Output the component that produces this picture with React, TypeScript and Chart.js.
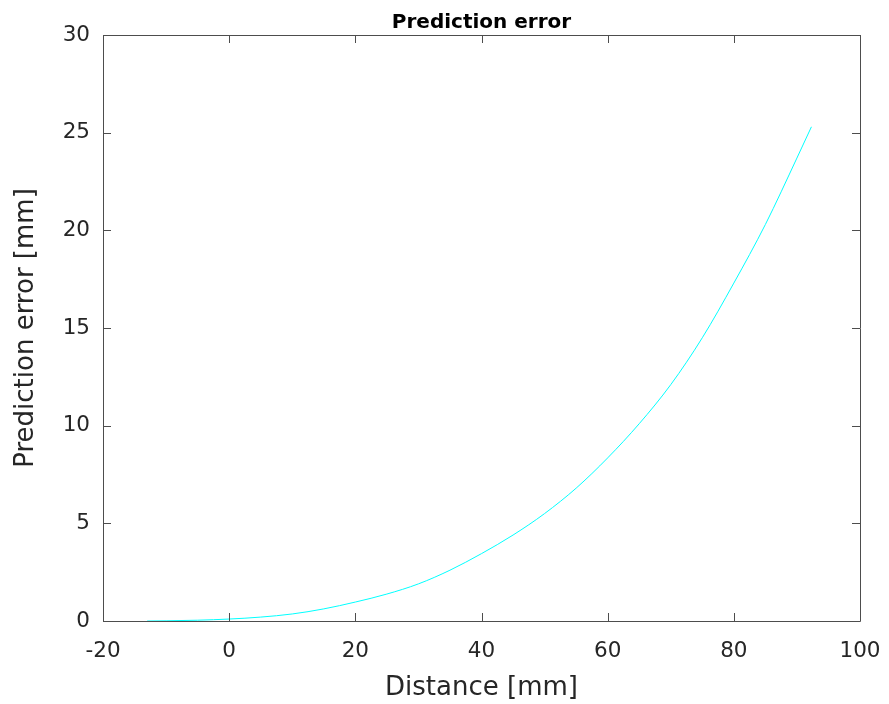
import React, { useEffect, useRef } from "react";
import { Chart, registerables } from "chart.js";

Chart.register(...registerables);

const distanceMm = [-13, -10, -5, 0, 5, 10, 15, 20, 25, 30, 35, 40, 45, 50, 55, 60, 65, 70, 75, 80, 85, 90, 92.3];
const errorMm = [0, 0.01, 0.04, 0.1, 0.2, 0.36, 0.62, 0.97, 1.38, 1.9, 2.6, 3.45, 4.4, 5.5, 6.8, 8.35, 10.1, 12.1, 14.5, 17.3, 20.3, 23.7, 25.3];

const xTicks = [-20, 0, 20, 40, 60, 80, 100];
const yTicks = [0, 5, 10, 15, 20, 25, 30];

const titleText = "Prediction error";
const xLabel = "Distance [mm]";
const yLabel = "Prediction error [mm]";

const FONT = "'DejaVu Sans', sans-serif";
const TEXT = "#262626";
const AXIS = "#4d4d4d";

const framePlugin = {
  id: "frameTicks",
  afterDatasetsDraw(chart: any) {
    const { ctx, chartArea } = chart;
    const { left, right, top, bottom } = chartArea;
    const xs = chart.scales.x;
    const ys = chart.scales.y;
    const len = 8;
    ctx.save();
    ctx.strokeStyle = AXIS;
    ctx.lineWidth = 1;
    ctx.beginPath();
    ctx.rect(Math.round(left) + 0.5, Math.round(top) + 0.5, Math.round(right - left), Math.round(bottom - top));
    ctx.stroke();
    ctx.beginPath();
    xTicks.forEach((v) => {
      const px = Math.round(xs.getPixelForValue(v)) + 0.5;
      ctx.moveTo(px, bottom);
      ctx.lineTo(px, bottom - len);
      ctx.moveTo(px, top);
      ctx.lineTo(px, top + len);
    });
    yTicks.forEach((v) => {
      const py = Math.round(ys.getPixelForValue(v)) + 0.5;
      ctx.moveTo(left, py);
      ctx.lineTo(left + len, py);
      ctx.moveTo(right, py);
      ctx.lineTo(right - len, py);
    });
    ctx.stroke();
    ctx.restore();
  },
};

export default function App() {
  const ref = useRef<HTMLCanvasElement | null>(null);

  useEffect(() => {
    if (!ref.current) return;
    const chart = new Chart(ref.current, {
      type: "line",
      data: {
        datasets: [
          {
            data: distanceMm.map((x, i) => ({ x, y: errorMm[i] })),
            borderColor: "#00ffff",
            backgroundColor: "#00ffff",
            borderWidth: 1,
            pointRadius: 0,
            fill: false,
            cubicInterpolationMode: "monotone",
          },
        ],
      },
      options: {
        animation: false,
        responsive: true,
        maintainAspectRatio: false,
        layout: { padding: { top: 0, right: 29, bottom: 0, left: 0 } },
        plugins: {
          legend: { display: false },
          tooltip: { enabled: false },
          title: {
            display: true,
            text: titleText,
            fullSize: false,
            color: "#000",
            font: { family: FONT, size: 20, weight: "bold" },
            padding: { top: 11, bottom: 0 },
          },
        },
        scales: {
          x: {
            type: "linear",
            min: -20,
            max: 100,
            afterBuildTicks: (s: any) => {
              s.ticks = xTicks.map((v) => ({ value: v }));
            },
            afterFit: (s: any) => {
              s.height = 83;
              s.paddingLeft = 0;
              s.paddingRight = 0;
            },
            grid: { display: false, drawTicks: false },
            border: { display: false },
            ticks: {
              color: TEXT,
              font: { family: FONT, size: 21.5 },
              padding: 18,
              maxRotation: 0,
              autoSkip: false,
            },
            title: {
              display: true,
              text: xLabel,
              color: TEXT,
              font: { family: FONT, size: 26 },
              padding: { top: 0, bottom: 0 },
            },
          },
          y: {
            type: "linear",
            min: 0,
            max: 30,
            afterBuildTicks: (s: any) => {
              s.ticks = yTicks.map((v) => ({ value: v }));
            },
            afterFit: (s: any) => {
              s.width = 103;
              s.paddingTop = 0;
              s.paddingBottom = 0;
            },
            grid: { display: false, drawTicks: false },
            border: { display: false },
            ticks: {
              color: TEXT,
              font: { family: FONT, size: 21.5 },
              padding: 13,
              autoSkip: false,
            },
            title: {
              display: true,
              text: yLabel,
              color: TEXT,
              font: { family: FONT, size: 26 },
              padding: { top: 11, bottom: 0 },
            },
          },
        },
      },
      plugins: [framePlugin],
    });
    return () => chart.destroy();
  }, []);

  return (
    <div style={{ position: "absolute", left: 0, top: 0, width: 889, height: 704, background: "#fff" }}>
      <canvas ref={ref} />
    </div>
  );
}
